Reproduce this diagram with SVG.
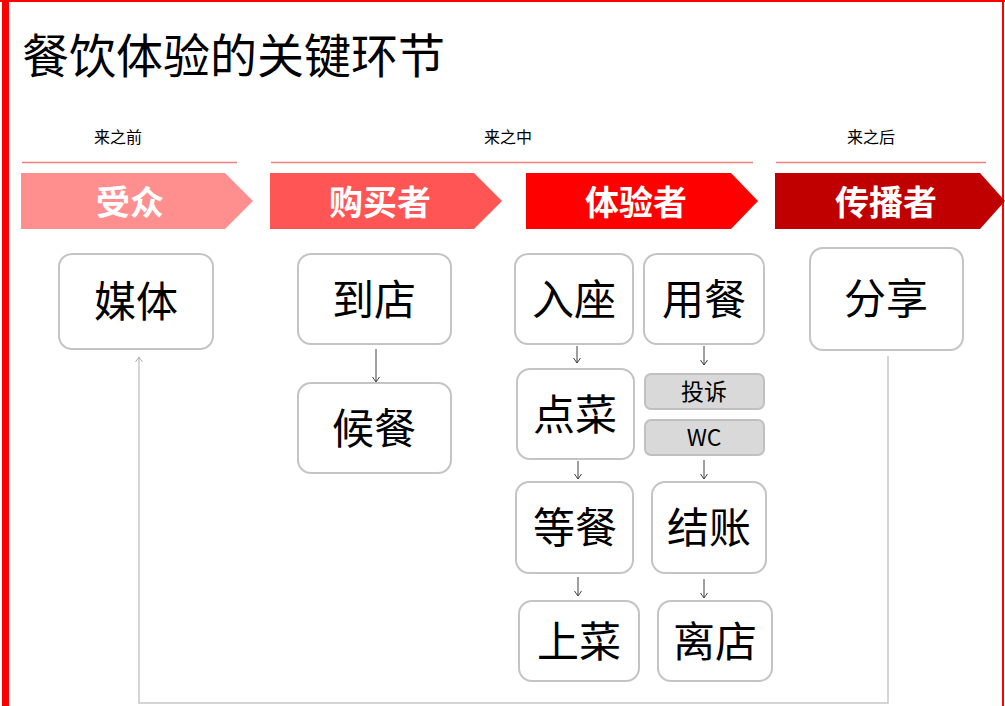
<svg xmlns="http://www.w3.org/2000/svg" width="1005" height="706" viewBox="0 0 1005 706">
<defs>
<marker id="ah" markerWidth="10" markerHeight="10" refX="8" refY="5" orient="auto" markerUnits="userSpaceOnUse" viewBox="0 0 10 10">
<path d="M3,1.5 L8,5 L3,8.5" fill="none" stroke="#404040" stroke-width="1"/>
</marker>
<marker id="ahl" markerWidth="10" markerHeight="10" refX="8" refY="5" orient="auto" markerUnits="userSpaceOnUse" viewBox="0 0 10 10">
<path d="M3,1.5 L8,5 L3,8.5" fill="none" stroke="#b0b0b0" stroke-width="1"/>
</marker>
</defs>
<style>
text{font-family:"Noto Sans CJK SC","Liberation Sans",sans-serif;}
.node{fill:#fff;stroke:#c4c4c4;stroke-width:2;}
.sub{fill:#d9d9d9;stroke:#c0c0c0;stroke-width:2;}
.nt{font-size:42px;fill:#000;text-anchor:middle;dominant-baseline:central;}
.st{font-size:23px;fill:#000;text-anchor:middle;dominant-baseline:central;}
.ct{font-size:34px;font-weight:bold;fill:#fff;text-anchor:middle;dominant-baseline:central;}
.sec{font-size:16px;fill:#000;text-anchor:middle;}
.sep{stroke:#f08080;stroke-width:1.5;}
.arr{stroke:#404040;stroke-width:1;fill:none;marker-end:url(#ah);}
.fb{stroke:#c8c8c8;stroke-width:1.5;fill:none;}
</style>
<rect x="0" y="0" width="1005" height="706" fill="#fff"/>
<rect x="2" y="0" width="7" height="706" fill="#ff0000"/>
<rect x="0" y="0" width="1005" height="2" fill="#ff0000"/>
<rect x="1002" y="0" width="2" height="706" fill="#ff0000"/>
<text x="22" y="73" font-size="47" fill="#000">餐饮体验的关键环节</text>
<g id="sections">
<text class="sec" x="118" y="143">来之前</text>
<text class="sec" x="508" y="143">来之中</text>
<text class="sec" x="871" y="143">来之后</text>
<line class="sep" x1="22" y1="162.5" x2="237" y2="162.5"/>
<line class="sep" x1="271" y1="162.5" x2="753" y2="162.5"/>
<line class="sep" x1="776" y1="162.5" x2="986" y2="162.5"/>
</g>
<g id="chev-audience"><polygon points="21,173 225,173 253,201 225,229 21,229" fill="#ff8f8f"/><text class="ct" x="130" y="200">受众</text></g>
<g id="chev-buyer"><polygon points="270,173 474,173 502,201 474,229 270,229" fill="#ff5555"/><text class="ct" x="380" y="200">购买者</text></g>
<g id="chev-experiencer"><polygon points="526,173 731,173 758,201 731,229 526,229" fill="#ff0000"/><text class="ct" x="636" y="200">体验者</text></g>
<g id="chev-spreader"><polygon points="775,173 980,173 1005,201 980,229 775,229" fill="#c00000"/><text class="ct" x="886" y="200">传播者</text></g>
<g id="connectors">
<line class="arr" x1="376" y1="349" x2="376" y2="382"/>
<line class="arr" x1="577" y1="346" x2="577" y2="363"/>
<line class="arr" x1="704" y1="346" x2="704" y2="365"/>
<line class="arr" x1="578" y1="461" x2="578" y2="479"/>
<line class="arr" x1="704" y1="460" x2="704" y2="479"/>
<line class="arr" x1="578" y1="577" x2="578" y2="596"/>
<line class="arr" x1="704" y1="579" x2="704" y2="598"/>
<polyline class="fb" points="888,356 888,703 139,703 139,357" marker-end="url(#ahl)"/>
</g>
<g id="n-media"><rect class="node" x="59" y="254" width="154" height="95" rx="13"/><text class="nt" x="136" y="298">媒体</text></g>
<g id="n-arrive"><rect class="node" x="298" y="254" width="153" height="90" rx="13"/><text class="nt" x="374" y="296">到店</text></g>
<g id="n-wait"><rect class="node" x="298" y="383" width="153" height="90" rx="13"/><text class="nt" x="374" y="425">候餐</text></g>
<g id="n-seat"><rect class="node" x="515" y="254" width="118" height="90" rx="13"/><text class="nt" x="574" y="296">入座</text></g>
<g id="n-dine"><rect class="node" x="644" y="254" width="120" height="90" rx="13"/><text class="nt" x="704" y="296">用餐</text></g>
<g id="n-order"><rect class="node" x="517" y="369" width="117" height="90" rx="13"/><text class="nt" x="575" y="411">点菜</text></g>
<g id="n-complain"><rect class="sub" x="645" y="374" width="119" height="35" rx="6"/><text class="st" x="704" y="390">投诉</text></g>
<g id="n-wc"><rect class="sub" x="645" y="420" width="119" height="35" rx="6"/><text class="st" x="704" y="436" font-family="Liberation Sans">WC</text></g>
<g id="n-waitfood"><rect class="node" x="516" y="482" width="117" height="91" rx="13"/><text class="nt" x="575" y="524">等餐</text></g>
<g id="n-pay"><rect class="node" x="652" y="482" width="114" height="91" rx="13"/><text class="nt" x="709" y="524">结账</text></g>
<g id="n-serve"><rect class="node" x="519" y="601" width="120" height="80" rx="13"/><text class="nt" x="579" y="638">上菜</text></g>
<g id="n-leave"><rect class="node" x="658" y="601" width="114" height="80" rx="13"/><text class="nt" x="715" y="638">离店</text></g>
<g id="n-share"><rect class="node" x="810" y="248" width="153" height="102" rx="13"/><text class="nt" x="886" y="295">分享</text></g>
</svg>
